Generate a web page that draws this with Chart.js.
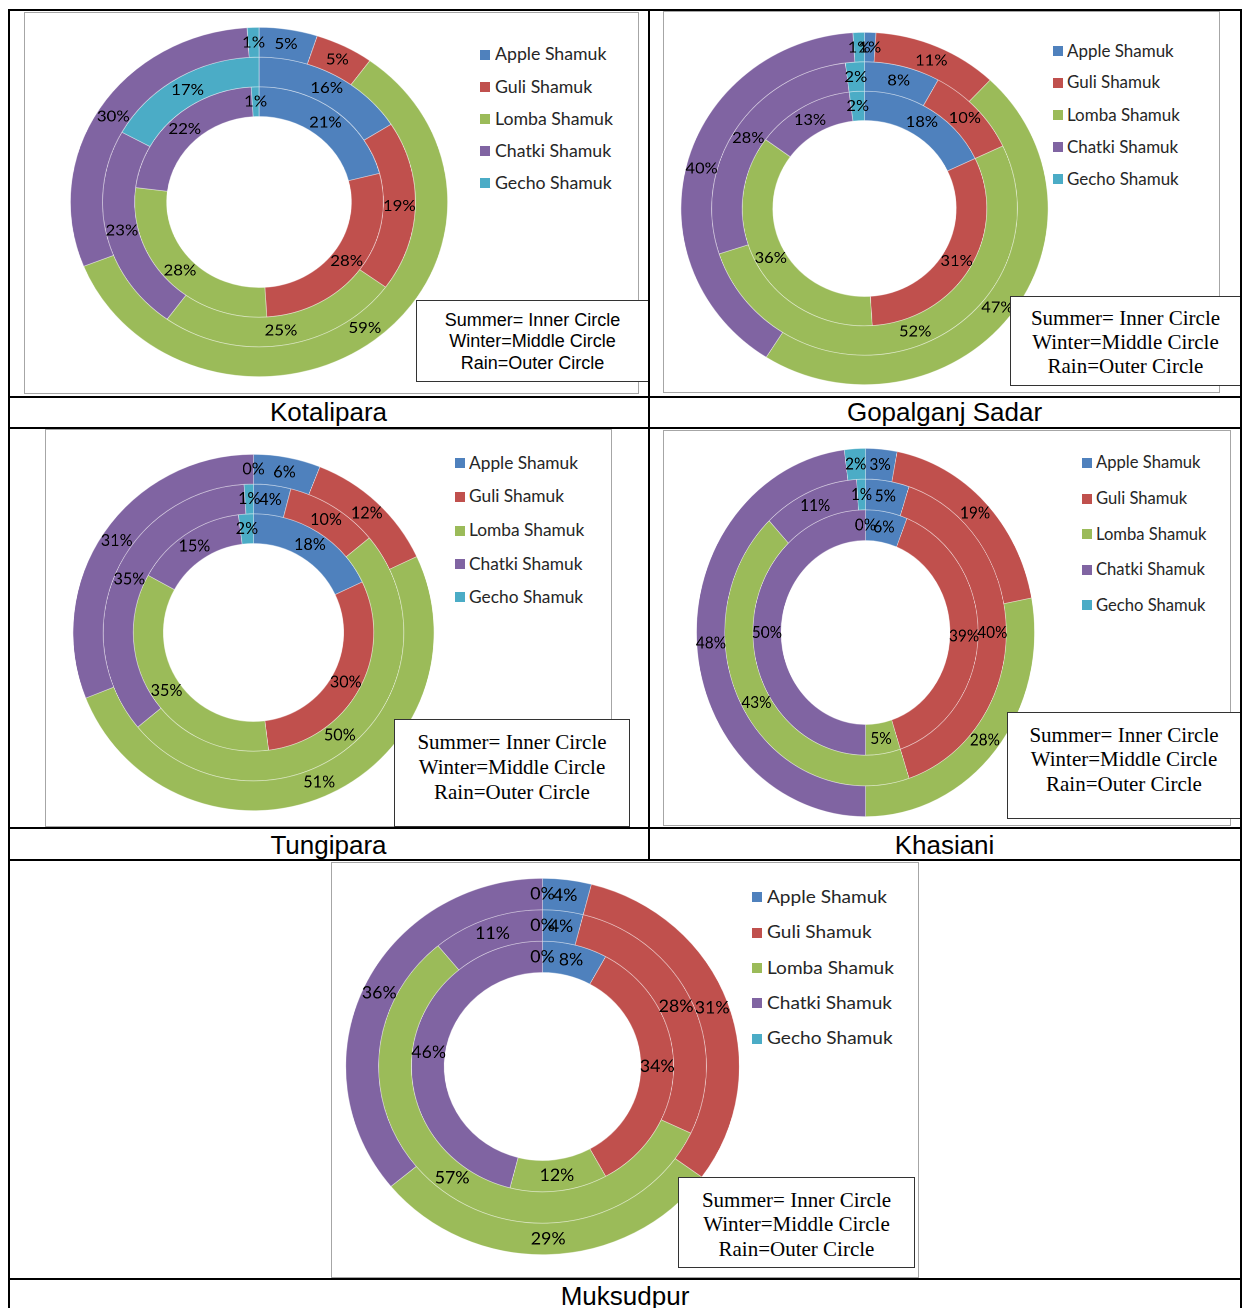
<!DOCTYPE html>
<html><head><meta charset="utf-8">
<script src="https://cdn.jsdelivr.net/npm/chart.js@4.4.1/dist/chart.umd.min.js"></script>
<style>
html,body{margin:0;padding:0;background:#fff;}
body{width:1242px;height:1308px;position:relative;overflow:hidden;font-family:'Liberation Sans',Arial,sans-serif;}
.line{position:absolute;background:#000;}
.frame{position:absolute;border:1.5px solid #a6a6a6;box-sizing:border-box;background:#fff;}
.wrap{position:absolute;transform-origin:50% 50%;}
.sq{position:absolute;width:10px;height:10px;}
.lt{position:absolute;font-family:Lato,sans-serif;font-size:16.5px;line-height:20px;color:#262626;white-space:nowrap;transform-origin:0 50%;}
.box{position:absolute;border:1px solid #333;background:#fff;box-sizing:border-box;}
.bl{position:absolute;left:0;right:0;text-align:center;white-space:nowrap;color:#000;}
.title{position:absolute;font-family:'Liberation Sans',Arial,sans-serif;font-size:26px;line-height:30px;text-align:center;color:#000;width:600px;}
</style></head><body>
<script>
// ---- data ----
const seriesNames = ['Apple Shamuk','Guli Shamuk','Lomba Shamuk','Chatki Shamuk','Gecho Shamuk'];
const seriesColors = ['#4F81BD','#C0504D','#9BBB59','#8064A2','#4BACC6'];
const regionNames = ['Kotalipara','Gopalganj Sadar','Tungipara','Khasiani','Muksudpur'];
const noteLines = ['Summer= Inner Circle','Winter=Middle Circle','Rain=Outer Circle'];

const kotaliparaSummer = [21,28,28,22,1];
const kotaliparaWinter = [16,19,25,23,17];
const kotaliparaRain   = [5,5,59,30,1];

const gopalganjSummer = [18,31,36,13,2];
const gopalganjWinter = [8,10,52,28,2];
const gopalganjRain   = [1,11,47,40,1];

const tungiparaSummer = [18,30,35,15,2];
const tungiparaWinter = [4,10,50,35,1];
const tungiparaRain   = [6,12,51,31,0];

const khasianiSummer = [6,39,5,50,0];
const khasianiWinter = [5,40,43,11,1];
const khasianiRain   = [3,19,28,48,2];

const muksudpurSummer = [8,34,12,46,0];
const muksudpurWinter = [4,28,57,11,0];
const muksudpurRain   = [4,31,29,36,0];

const regionSeries = [
  [kotaliparaRain, kotaliparaWinter, kotaliparaSummer],
  [gopalganjRain, gopalganjWinter, gopalganjSummer],
  [tungiparaRain, tungiparaWinter, tungiparaSummer],
  [khasianiRain, khasianiWinter, khasianiSummer],
  [muksudpurRain, muksudpurWinter, muksudpurSummer]
];

// ---- layout ----
const layouts = [
 {cx:259, cy:202, r:174, sx:1.08, cut:'49%', fs:15.5,
  sqX:480, txX:494.5, rows:[54.7,87.3,119,151,183.3], lw:111.5,
  frame:[24,12,639,394], box:[416,300,649,382], bf:"18px 'Liberation Sans', Arial, sans-serif", lh:21.5, by:[321,342,364],
  title:[328.5,412]},
 {cx:864.3, cy:208, r:175.3, sx:1.042, cut:'50%', fs:15.8,
  sqX:1052.7, txX:1067, rows:[51,82.7,115,147,179], lw:106.7,
  frame:[663,11,1220,393], box:[1010,296,1241,386], bf:"21px 'Liberation Serif', 'Times New Roman', serif", lh:24, by:[318,342,366],
  title:[944.5,412]},
 {cx:253.8, cy:632.5, r:177.5, sx:1.013, cut:'50%', fs:16,
  sqX:454.5, txX:468.5, rows:[463.3,496.7,530.7,564,597.3], lw:109,
  frame:[45,429,612,827], box:[394,719,630,827], bf:"21px 'Liberation Serif', 'Times New Roman', serif", lh:25, by:[742,767,792],
  title:[328.5,845]},
 {cx:865.7, cy:632.7, r:183.3, sx:0.918, cut:'50%', fs:16.8,
  sqX:1082.2, txX:1096, rows:[462.7,498.7,534.3,569.7,605.3], lw:104.5,
  frame:[663,430,1231,826], box:[1007,712,1241,819], bf:"21px 'Liberation Serif', 'Times New Roman', serif", lh:24.5, by:[735,759,784],
  title:[944.5,845]},
 {cx:542, cy:1066.5, r:187.7, sx:1.046, cut:'50%', fs:17,
  sqX:751.5, txX:767, rows:[897.3,932.7,968.3,1003.3,1038.7], lw:120,
  frame:[331,862,919,1278], box:[678,1177,915,1268], bf:"21px 'Liberation Serif', 'Times New Roman', serif", lh:24.5, by:[1200,1224,1249],
  title:[625,1296]}
];

function el(cls, style, text){
  const d=document.createElement('div');
  if(cls) d.className=cls;
  Object.assign(d.style, style||{});
  if(text!==undefined) d.textContent=text;
  document.body.appendChild(d);
  return d;
}

const pctLabels = {
  id:'pctLabels',
  afterDatasetsDraw(chart, args, opts){
    const ctx=chart.ctx;
    ctx.save();
    ctx.font = opts.size+'px Lato, sans-serif';
    ctx.fillStyle='#000';
    ctx.textAlign='center';
    ctx.textBaseline='middle';
    chart.data.datasets.forEach((ds,i)=>{
      const meta=chart.getDatasetMeta(i);
      meta.data.forEach((arc,j)=>{
        const p=arc.getCenterPoint();
        ctx.fillText(ds.data[j]+'%', p.x, p.y);
      });
    });
    ctx.restore();
  }
};

const mctx=document.createElement('canvas').getContext('2d');
mctx.font='16.5px Lato';
const legendNatural = mctx.measureText(seriesNames[0]).width;

layouts.forEach((L,k)=>{
  // frame
  el('frame',{left:L.frame[0]+'px',top:L.frame[1]+'px',width:(L.frame[2]-L.frame[0])+'px',height:(L.frame[3]-L.frame[1])+'px'});
  // chart
  const S=Math.round(2*L.r+2);
  const w=el('wrap',{left:(L.cx-S/2)+'px',top:(L.cy-S/2)+'px',width:S+'px',height:S+'px',transform:'scaleX('+L.sx+')'});
  const c=document.createElement('canvas');
  c.width=S; c.height=S;
  w.appendChild(c);
  const ds=regionSeries[k].map((vals,i)=>({
    label:['Rain','Winter','Summer'][i],
    data:vals,
    backgroundColor:seriesColors,
    borderColor:'rgba(255,255,255,0.45)',
    borderWidth:0.8
  }));
  new Chart(c,{
    type:'doughnut',
    data:{labels:seriesNames, datasets:ds},
    options:{
      responsive:false, maintainAspectRatio:false, animation:false,
      devicePixelRatio:2,
      cutout:L.cut,
      layout:{padding:0},
      plugins:{legend:{display:false}, tooltip:{enabled:false}, pctLabels:{size:L.fs}}
    },
    plugins:[pctLabels]
  });
  // legend
  const sc = L.lw/legendNatural;
  seriesNames.forEach((n,i)=>{
    el('sq',{left:L.sqX+'px',top:(L.rows[i]-5)+'px',background:seriesColors[i]});
    el('lt',{left:L.txX+'px',top:(L.rows[i]-10.5)+'px',transform:'scaleX('+sc+')'}, n);
  });
  // note box
  const b=el('box',{left:L.box[0]+'px',top:L.box[1]+'px',width:(L.box[2]-L.box[0])+'px',height:(L.box[3]-L.box[1])+'px'});
  noteLines.forEach((t,i)=>{
    const d=document.createElement('div');
    d.className='bl';
    d.style.font=L.bf;
    d.style.lineHeight=L.lh+'px';
    d.style.top=(L.by[i]-L.box[1]-L.lh/2-1)+'px';
    d.textContent=t;
    b.appendChild(d);
  });
  // title
  el('title',{left:(L.title[0]-300)+'px',top:(L.title[1]-15)+'px'}, regionNames[k]);
});

// table lines
function hl(y,x1,x2){el('line',{left:x1+'px',top:(y-1)+'px',width:(x2-x1)+'px',height:'2px'});}
function vl(x,y1,y2){el('line',{left:(x-1)+'px',top:y1+'px',width:'2px',height:(y2-y1)+'px'});}
hl(10,8,1242); hl(396.5,8,1242); hl(428,8,1242); hl(828,8,1242); hl(860,8,1242); hl(1279,8,1242);
vl(9,9,1308); vl(1241,9,1308); vl(648.5,9,860);
</script>
</body></html>
